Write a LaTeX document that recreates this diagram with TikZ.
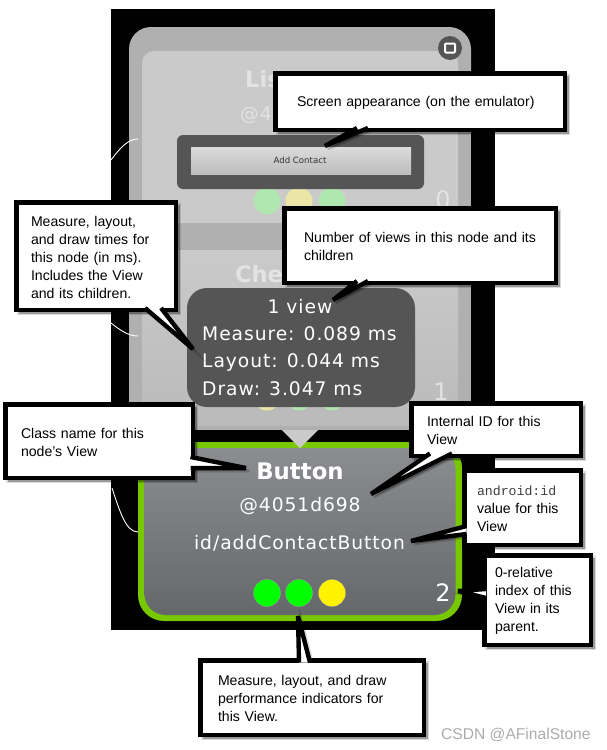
\documentclass[tikz,border=0pt]{standalone}
\usepackage{fontspec}
\setmainfont{Liberation Sans}
\newfontfamily\uifont{DejaVu Sans}
\newfontfamily\uispaced[LetterSpace=5]{DejaVu Sans}
\newfontfamily\codefont{Liberation Mono}
\pgfdeclarelayer{shadelayer}
\pgfdeclarelayer{toplayer}
\pgfsetlayers{main,shadelayer,toplayer}
\definecolor{panelgrey}{HTML}{B0B0B0}
\definecolor{innergrey}{HTML}{C9CAC9}
\definecolor{darkpanel}{HTML}{555555}
\definecolor{viewgreen}{HTML}{78C800}
\definecolor{viewtop}{HTML}{8B8D90}
\definecolor{viewbottom}{HTML}{65686B}
\definecolor{fadegreen}{HTML}{B0E6B0}
\definecolor{fadeyellow}{HTML}{EBE6A5}
\definecolor{fadetext}{HTML}{E2E3E2}
\tikzset{
  callbox/.style={draw=black,fill=white,line width=4.5pt,inner sep=0pt,outer sep=0pt},
  calltext/.style={inner sep=0pt,align=left,font=\fontsize{14.1}{18}\selectfont},
  calltail/.style={draw=black,fill=white,line width=4.4pt,miter limit=5},
  softshade/.style={fill=black,draw=black,fill opacity=.3,draw opacity=.14,line width=3pt},
  lamp/.style={circle,minimum size=27pt,inner sep=0pt,draw=black!30,draw opacity=.5,line width=.5pt},
  fadelamp/.style={circle,minimum size=27pt,inner sep=0pt},
  viewtext/.style={text=white,inner sep=0pt},
  statline/.style={text=white,inner sep=0pt,anchor=west,font=\uispaced\fontsize{18.7}{20}\selectfont},
  linkline/.style={draw=white,line width=.9pt},
}
% Annotation box by its outer edges, with its text inset from the left.
\newcommand{\annotbox}[7]{%
  \pgfmathsetmacro{\annx}{(#2+#4)/2}%
  \pgfmathsetmacro{\anny}{(#3+#5)/2}%
  \pgfmathsetmacro{\annw}{#4-#2-4.5}%
  \pgfmathsetmacro{\annh}{#5-#3-4.5}%
  \pgfmathsetmacro{\annt}{#4-#2-2*#6}%
  \begin{pgfonlayer}{shadelayer}
    \path[softshade] (#2+4.5,#3+4.5) rectangle (#4+1.5,#5+1.5);
  \end{pgfonlayer}
  \begin{pgfonlayer}{toplayer}
    \node[callbox,minimum width=\annw pt,minimum height=\annh pt] (#1) at (\annx,\anny) {};
    \node[calltext,text width=\annt pt] (#1-text) at (\annx,\anny+1.2) {#7};
  \end{pgfonlayer}
}
% Annotation tail: first base point, tip, second base point.
\newcommand{\annottail}[4]{%
  \begin{pgfonlayer}{shadelayer}
    \begin{scope}[shift={(3,3)}]
      \path[softshade] #2 -- #3 -- #4 -- cycle;
    \end{scope}
  \end{pgfonlayer}
  \begin{pgfonlayer}{toplayer}
    \coordinate (#1-tip) at #3;
    \draw[calltail] #2 -- (#1-tip) -- #4;
  \end{pgfonlayer}
}
\begin{document}
\begin{tikzpicture}[x=1pt,y=-1pt]
\useasboundingbox (0,0) rectangle (606,750);
% device backdrop and stacked panels
\fill[black] (111,9) rectangle (495,630);
\fill[panelgrey,rounded corners=22pt] (129,27) rectangle (471,120);
\fill[panelgrey] (129,60) rectangle (471,430);
\fill[innergrey,rounded corners=12pt] (142,51) -- (458,51) -- (458,223) -- (142,223) -- cycle;
\shade[top color=innergrey,bottom color=innergrey!92!black,rounded corners=6pt] (142,250) rectangle (458,426);
\fill[darkpanel] (450,48) circle (12);
\draw[white,line width=2pt,fill=darkpanel,rounded corners=1pt] (445,43.5) rectangle (455,52.5);

% faded parent nodes
\node[viewtext,text=fadetext,anchor=west,font=\uifont\bfseries\fontsize{22.5}{24}\selectfont] (listname) at (245,79) {Lis};
\node[viewtext,text=fadetext,anchor=west,font=\uispaced\fontsize{18.7}{20}\selectfont] (listid) at (240,115) {@4};
\node[viewtext,text=fadetext,anchor=west,font=\uifont\bfseries\fontsize{22.5}{24}\selectfont] (checkname) at (235,274) {Che};
\node[viewtext,text=fadetext,font=\uifont\fontsize{24}{26}\selectfont] (listindex) at (443,200) {0};
\node[viewtext,text=fadetext,font=\uifont\fontsize{24}{26}\selectfont] (checkindex) at (441,392) {1};
\node[fadelamp,fill=fadegreen] (la) at (267,201) {};
\node[fadelamp,fill=fadeyellow] (lb) at (299,201) {};
\node[fadelamp,fill=fadegreen] (lc) at (332,201) {};
\node[fadelamp,fill=fadeyellow] (ca) at (267,397) {};
\node[fadelamp,fill=fadegreen] (cb) at (299,397) {};
\node[fadelamp,fill=fadegreen] (cc) at (332,397) {};

% on-screen appearance of the selected view
\fill[darkpanel,rounded corners=6pt] (177,135) rectangle (424,189);
\shade[top color=white!86!black,bottom color=white!74!black] (191,147) rectangle (411,174);
\node[inner sep=0pt,text=black!80,font=\uifont\fontsize{8.6}{10}\selectfont] (addcontact) at (300,160.5) {Add Contact};

% selected view node
\fill[viewgreen,rounded corners=26pt] (138,442) rectangle (462,621);
\shade[top color=viewtop,bottom color=viewbottom,rounded corners=21pt] (144.5,448) rectangle (455.5,615);
\fill[innergrey] (282,430) -- (318,430) -- (300,448) -- cycle;
\node[viewtext,font=\uifont\bfseries\fontsize{22.8}{26}\selectfont] (viewname) at (300,471) {Button};
\node[viewtext,font=\uispaced\fontsize{18.7}{20}\selectfont] (viewid) at (300,506.5) {@4051d698};
\node[viewtext,font=\uispaced\fontsize{18.7}{20}\selectfont] (viewres) at (299.5,543) {id/addContactButton};
\node[lamp,fill=green] (ma) at (267,593) {};
\node[lamp,fill=green] (mb) at (299,593) {};
\node[lamp,fill=yellow] (mc) at (332,593) {};
\node[viewtext,font=\uifont\fontsize{24}{28}\selectfont] (viewindex) at (443,593) {2};

% tree links from the left edge of the device
\coordinate (e1) at (111,160);
\coordinate (p1) at (138,139);
\coordinate (e2) at (111,323);
\coordinate (p2) at (138,336);
\coordinate (e3) at (112,488);
\coordinate (p3) at (138,532);
\draw[linkline] (e1) .. controls (120,148) and (128,139) .. (p1);
\draw[linkline] (e2) .. controls (120,330) and (128,336) .. (p2);
\draw[linkline] (e3) .. controls (120,512) and (126,532) .. (p3);

% timing popup
\fill[darkpanel,rounded corners=20pt] (187,288) rectangle (415,407);
\node[viewtext,font=\uispaced\fontsize{18.7}{20}\selectfont] (st1) at (300,307) {1 view};
\node[statline] (st2) at (202,334) {Measure: 0.089 ms};
\node[statline] (st3) at (202,362) {Layout: 0.044 ms};
\node[statline] (st4) at (202,389) {Draw: 3.047 ms};

% annotations
\annotbox{screen}{273}{71}{567}{132}{24}{Screen appearance (on the emulator)}
\annottail{screen}{(357,128)}{(325,146)}{(368,128)}
\annotbox{times}{14}{200}{178}{312}{17}{Measure, layout,\\and draw times for\\this node (in ms).\\Includes the View\\and its children.}
\annottail{times}{(145,308)}{(193,349)}{(161,308)}
\annotbox{count}{282}{206}{558}{285}{22}{Number of views in this node and its\\children}
\annottail{count}{(357,281)}{(333,300)}{(368,281)}
\annotbox{classname}{3}{402}{195}{480}{18}{Class name for this\\node's View}
\annottail{classname}{(190.5,457)}{(246,468)}{(190.5,468)}
\annotbox{internal}{409}{401}{583}{458}{18}{Internal ID for this\\View}
\annottail{internal}{(430,453.5)}{(371,494)}{(452,453.5)}
\annotbox{androidid}{462}{468}{583}{547}{15}{{\codefont\fontsize{13.2}{18}\selectfont\color{black!75}android:id}\\value for this\\View}
\annottail{androidid}{(466.5,526)}{(411,541)}{(466.5,534)}
\annotbox{relindex}{482}{553}{593}{647}{13}{0-relative\\index of this\\View in its\\parent.}
\annottail{relindex}{(486,589)}{(458,591)}{(486,598)}
\annotbox{indicators}{198}{658}{426}{737}{20}{Measure, layout, and draw\\performance indicators for\\this View.}
\annottail{indicators}{(299,662.5)}{(298,616)}{(310,662.5)}

\node[inner sep=0pt,anchor=west,text=black!33,font=\fontsize{15.6}{18}\selectfont] (mark) at (441,735) {CSDN @AFinalStone};
\end{tikzpicture}
\end{document}
